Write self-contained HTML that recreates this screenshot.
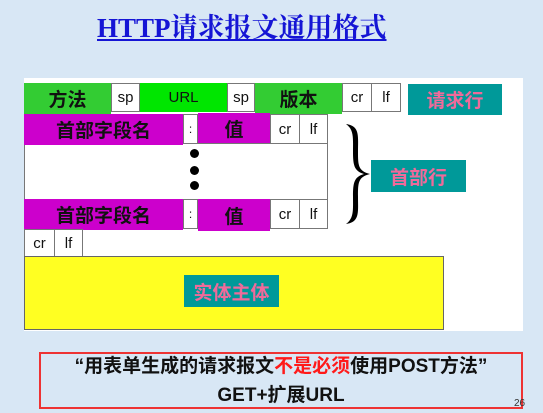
<!DOCTYPE html>
<html><head><meta charset="utf-8"><style>
body{margin:0;width:543px;height:413px;overflow:hidden;background:#d8e7f5;position:relative;font-family:"Liberation Sans","Noto Sans CJK SC",sans-serif;}
.a{position:absolute;box-sizing:border-box;display:flex;align-items:center;justify-content:center;}
.w{background:#fff;border:1px solid #777;font-size:15px;color:#111;}
.g{background:#33cc33;font-size:19px;font-weight:bold;color:#111;}
.m{background:#cc00cc;font-size:19px;font-weight:bold;color:#111;}
.t{background:#009999;color:#f06a9a;font-size:19px;font-weight:bold;}
.dot{position:absolute;width:9px;height:9px;border-radius:50%;background:#000;}
</style></head><body>
<div style="position:absolute;left:97px;top:6px;font-family:'Liberation Serif','Noto Serif CJK SC',serif;font-weight:bold;font-size:27px;color:#1515d5;text-decoration:underline;white-space:nowrap;">HTTP请求报文通用格式</div>
<div style="position:absolute;left:24px;top:78px;width:499px;height:253px;background:#fff;"></div>
<!-- row1 -->
<div class="a g" style="left:24px;top:83px;width:87px;height:31px;">方法</div>
<div class="a w" style="left:111px;top:83px;width:29px;height:29px;">sp</div>
<div class="a" style="left:140px;top:83px;width:87px;height:29px;background:#00e600;font-size:15px;color:#111;">URL</div>
<div class="a w" style="left:227px;top:83px;width:28px;height:29px;">sp</div>
<div class="a g" style="left:255px;top:83px;width:87px;height:31px;">版本</div>
<div class="a w" style="left:342px;top:83px;width:30px;height:29px;">cr</div>
<div class="a w" style="left:371px;top:83px;width:30px;height:29px;">lf</div>
<div class="a t" style="left:408px;top:84px;width:94px;height:31px;">请求行</div>
<!-- middle box -->
<div style="position:absolute;left:24px;top:143px;width:304px;height:57px;border:1px solid #777;box-sizing:border-box;background:#fff;"></div>
<div class="dot" style="left:190px;top:149px"></div>
<div class="dot" style="left:190px;top:166px"></div>
<div class="dot" style="left:190px;top:181px"></div>
<!-- row2 -->
<div class="a m" style="left:24px;top:114px;width:159px;height:31px;">首部字段名</div>
<div class="a w" style="left:183px;top:114px;width:15px;height:30px;font-size:12px;">:</div>
<div class="a m" style="left:198px;top:113px;width:72px;height:30px;">值</div>
<div class="a w" style="left:270px;top:114px;width:30px;height:30px;">cr</div>
<div class="a w" style="left:299px;top:114px;width:29px;height:30px;">lf</div>
<!-- row3 -->
<div class="a m" style="left:24px;top:199px;width:159px;height:31px;">首部字段名</div>
<div class="a w" style="left:183px;top:199px;width:15px;height:30px;font-size:12px;">:</div>
<div class="a m" style="left:198px;top:199px;width:72px;height:32px;">值</div>
<div class="a w" style="left:270px;top:199px;width:30px;height:30px;">cr</div>
<div class="a w" style="left:299px;top:199px;width:29px;height:30px;">lf</div>
<!-- row4 -->
<div class="a w" style="left:24px;top:229px;width:31px;height:28px;">cr</div>
<div class="a w" style="left:54px;top:229px;width:29px;height:28px;">lf</div>
<!-- brace -->
<svg style="position:absolute;left:340px;top:122px" width="32" height="104" viewBox="0 0 32 106" preserveAspectRatio="none">
<path d="M6 2 C20 4 18 14 18 30 C18 44 18 50 30 53 C18 56 18 62 18 76 C18 92 20 102 6 104 C14 98 13 90 13 76 C13 62 14 56 24 53 C14 50 13 44 13 30 C13 16 14 8 6 2 Z" fill="#000"/>
</svg>
<div class="a t" style="left:371px;top:160px;width:95px;height:32px;">首部行</div>
<!-- body -->
<div class="a" style="left:24px;top:256px;width:420px;height:74px;background:#ffff22;border:1px solid #666;"></div>
<div class="a t" style="left:184px;top:275px;width:95px;height:32px;">实体主体</div>
<!-- red box -->
<div style="position:absolute;left:39px;top:352px;width:484px;height:57px;border:2px solid #ee3333;box-sizing:border-box;"></div>
<div style="position:absolute;left:39px;top:355px;width:484px;text-align:center;font-weight:bold;font-size:19px;line-height:24px;color:#111;white-space:nowrap;">“用表单生成的请求报文<span style="color:#ff1a1a">不是必须</span>使用POST方法”</div>
<div style="position:absolute;left:39px;top:384px;width:484px;text-align:center;font-weight:bold;font-size:19px;line-height:24px;color:#111;">GET+扩展URL</div>
<div style="position:absolute;left:514px;top:398px;font-size:10px;color:#333;">26</div>
</body></html>
